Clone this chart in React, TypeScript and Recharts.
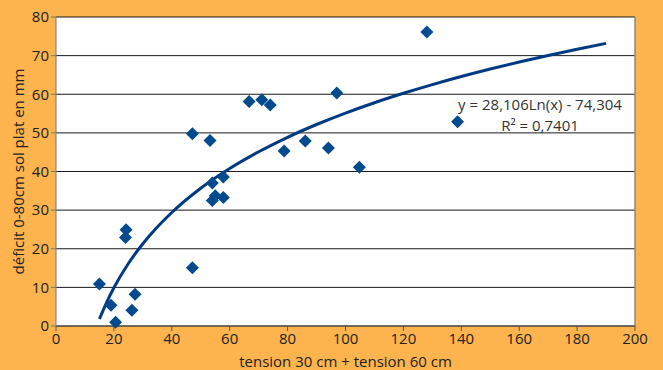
import React from 'react';
import {
  ComposedChart,
  Scatter,
  XAxis,
  YAxis,
  CartesianGrid,
  ReferenceLine,
} from 'recharts';

// tension sum (cm) vs deficit (mm)
const tensionX = [15, 19, 20.6, 24.2, 24, 26.2, 27.3, 47.1, 54, 57.8, 54, 55, 57.8, 47.1, 53.2, 66.7, 71.1, 74, 78.8, 86.1, 94.1, 97, 104.8, 128.1, 138.7];
const deficitY = [10.9, 5.4, 1.0, 24.9, 22.9, 4.1, 8.2, 15.1, 37.0, 38.6, 32.5, 33.7, 33.3, 49.8, 48.0, 58.1, 58.6, 57.2, 45.3, 47.9, 46.1, 60.3, 41.1, 76.1, 52.9];

// log trendline as drawn (y = 28,106 Ln(x) - 74,304)
const trendX = [15, 17.5, 20, 25, 30, 35, 40, 50, 60, 70, 80, 90, 100, 110, 120, 130, 140, 150, 160, 170, 180, 190];
const trendY = [1.81, 6.14, 9.89, 16.17, 21.29, 25.62, 29.38, 35.65, 40.77, 45.1, 48.86, 52.17, 55.13, 57.81, 60.25, 62.5, 64.59, 66.53, 68.34, 70.04, 71.65, 73.17];

const xTicks = [0, 20, 40, 60, 80, 100, 120, 140, 160, 180, 200];
const yTicks = [0, 10, 20, 30, 40, 50, 60, 70, 80];

const points = tensionX.map((x, i) => ({ x, y: deficitY[i] }));
const trend = trendX.map((x, i) => ({ x, y: trendY[i] }));

const BLUE = '#034a8e';
const FONT = '"Open Sans", "Noto Sans", sans-serif';

const Diamond = (props: any) => {
  const { cx, cy } = props;
  const r = 6.5;
  return <polygon points={`${cx},${cy - r} ${cx + r},${cy} ${cx},${cy + r} ${cx - r},${cy}`} fill={BLUE} />;
};

const eqStyle: React.CSSProperties = {
  position: 'absolute',
  left: 440,
  width: 200,
  textAlign: 'center',
  fontSize: 15,
  lineHeight: '16px',
  height: 16,
  color: '#333',
};

const App = () => {
  return (
    <div style={{ position: 'absolute', left: 0, top: 0, width: 663, height: 370, background: '#fdb44f', fontFamily: FONT }}>
      <ComposedChart width={663} height={370} data={points} margin={{ top: 17, right: 28, bottom: 0, left: 0 }}>
        <CartesianGrid vertical={false} stroke="#1a1a1a" strokeOpacity={1} fill="#ffffff" fillOpacity={1} />
        <XAxis
          type="number"
          dataKey="x"
          domain={[0, 200]}
          ticks={xTicks}
          height={44}
          stroke="#555"
          tickSize={5}
          tick={{ fill: '#222', fontSize: 15, fontFamily: FONT }}
          label={{ value: 'tension 30 cm + tension 60 cm', position: 'insideBottom', offset: 3, fill: '#222', fontSize: 15, fontFamily: FONT }}
        />
        <YAxis
          type="number"
          dataKey="y"
          domain={[0, 80]}
          ticks={yTicks}
          width={56}
          stroke="#777"
          tickSize={5}
          tick={{ fill: '#222', fontSize: 15, fontFamily: FONT }}
          label={{ value: 'déficit 0-80cm sol plat en mm', angle: -90, position: 'insideLeft', offset: 19, style: { textAnchor: 'middle' }, fill: '#222', fontSize: 15, fontFamily: FONT }}
        />
        <ReferenceLine x={200} stroke="#888" strokeWidth={1.5} />
        <Scatter
          data={trend}
          dataKey="y"
          line={{ stroke: '#003a82', strokeWidth: 3 }}
          lineJointType="monotoneX"
          shape={() => null}
          isAnimationActive={false}
        />
        <Scatter data={points} dataKey="y" shape={Diamond} isAnimationActive={false} />
      </ComposedChart>
      <div style={{ ...eqStyle, top: 96 }}>y = 28,106Ln(x) - 74,304</div>
      <div style={{ ...eqStyle, top: 117 }}>R² = 0,7401</div>
    </div>
  );
};

export default App;
